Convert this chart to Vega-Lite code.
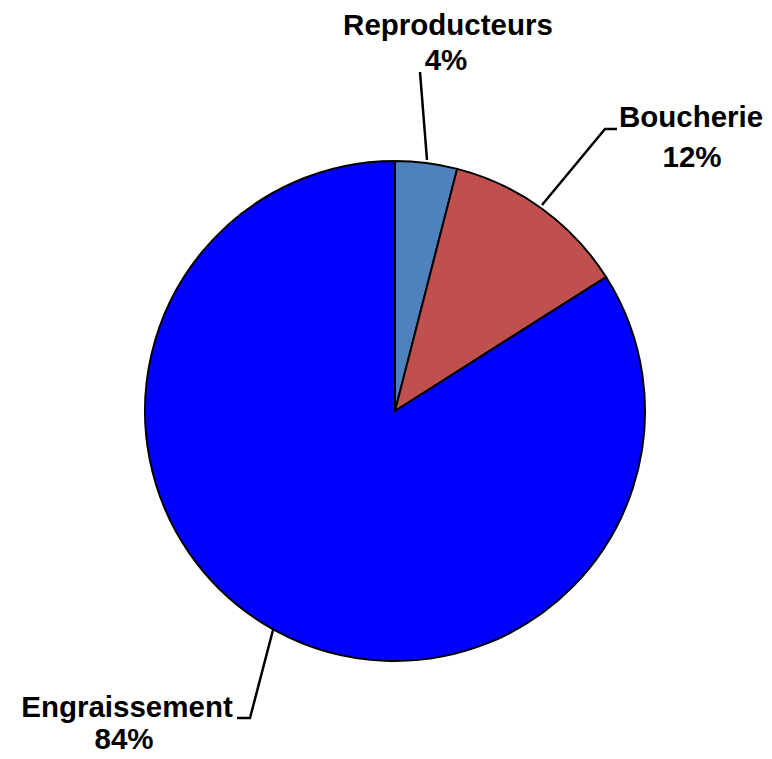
{
  "$schema": "https://vega.github.io/schema/vega-lite/v6.json",
  "width": 500,
  "height": 500,
  "autosize": {"type": "none"},
  "padding": {"left": 145, "top": 161, "right": 127, "bottom": 98},
  "background": "white",
  "config": {"view": {"stroke": null}},
  "datasets": {
    "slices": [
      {"category": "Reproducteurs", "value": 4, "order": 1},
      {"category": "Boucherie", "value": 12, "order": 2},
      {"category": "Engraissement", "value": 84, "order": 3}
    ],
    "leaders": [
      {"category": "Reproducteurs", "pt": 1, "x": 0.1, "y": 1.356},
      {"category": "Reproducteurs", "pt": 2, "x": 0.128, "y": 1.004},
      {"category": "Boucherie", "pt": 1, "x": 0.888, "y": 1.128},
      {"category": "Boucherie", "pt": 2, "x": 0.84, "y": 1.128},
      {"category": "Boucherie", "pt": 3, "x": 0.588, "y": 0.824},
      {"category": "Engraissement", "pt": 1, "x": -0.632, "y": -1.228},
      {"category": "Engraissement", "pt": 2, "x": -0.58, "y": -1.228},
      {"category": "Engraissement", "pt": 3, "x": -0.488, "y": -0.876}
    ],
    "labels": [
      {"text": "Reproducteurs", "x": 0.212, "y": 1.54},
      {"text": "4%", "x": 0.204, "y": 1.4},
      {"text": "Boucherie", "x": 1.184, "y": 1.172},
      {"text": "12%", "x": 1.188, "y": 1.012},
      {"text": "Engraissement", "x": -1.072, "y": -1.188},
      {"text": "84%", "x": -1.084, "y": -1.316}
    ]
  },
  "layer": [
    {
      "data": {"name": "slices"},
      "mark": {"type": "arc", "outerRadius": 250, "stroke": "black", "strokeWidth": 2},
      "encoding": {
        "theta": {"field": "value", "type": "quantitative", "stack": true},
        "order": {"field": "order", "type": "quantitative"},
        "color": {
          "field": "category",
          "type": "nominal",
          "scale": {
            "domain": ["Reproducteurs", "Boucherie", "Engraissement"],
            "range": ["#4F81BD", "#C0504D", "#0000FF"]
          },
          "legend": null
        }
      }
    },
    {
      "data": {"name": "leaders"},
      "mark": {"type": "line", "color": "black", "strokeWidth": 2.5},
      "encoding": {
        "x": {"field": "x", "type": "quantitative", "scale": {"domain": [-1, 1], "nice": false, "zero": false}, "axis": null},
        "y": {"field": "y", "type": "quantitative", "scale": {"domain": [-1, 1], "nice": false, "zero": false}, "axis": null},
        "detail": {"field": "category"},
        "order": {"field": "pt", "type": "quantitative"}
      }
    },
    {
      "data": {"name": "labels"},
      "mark": {"type": "text", "font": "Liberation Sans", "fontSize": 29.5, "fontWeight": "bold", "color": "black", "align": "center", "baseline": "middle"},
      "encoding": {
        "x": {"field": "x", "type": "quantitative", "scale": {"domain": [-1, 1], "nice": false, "zero": false}, "axis": null},
        "y": {"field": "y", "type": "quantitative", "scale": {"domain": [-1, 1], "nice": false, "zero": false}, "axis": null},
        "text": {"field": "text"}
      }
    }
  ]
}
